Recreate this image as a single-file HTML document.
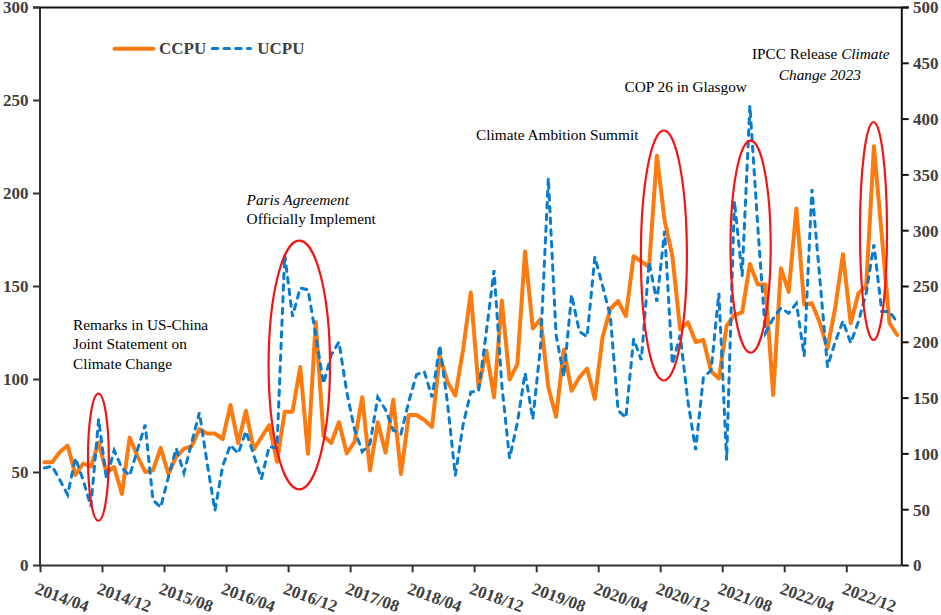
<!DOCTYPE html>
<html><head><meta charset="utf-8"><style>
html,body{margin:0;padding:0;background:#fff;}
body{width:941px;height:615px;overflow:hidden;}
svg{display:block;}
.ax{font-family:"Liberation Serif",serif;font-weight:bold;font-size:17px;fill:#404040;}
.an{font-family:"Liberation Serif",serif;font-size:15.3px;fill:#000;}
</style></head><body>
<svg width="941" height="615" viewBox="0 0 941 615">
<rect width="941" height="615" fill="#fff"/>
<polyline points="44.38,462.2 52.13,462.2 59.89,452.0 67.64,445.5 75.39,475.0 83.15,463.5 90.90,466.5 98.65,442.5 106.40,472.5 114.16,467.0 121.91,494.0 129.66,437.5 137.42,456.0 145.17,472.0 152.92,470.3 160.68,448.0 168.43,473.9 176.18,456.9 183.93,448.8 191.69,446.1 199.44,429.2 207.19,433.6 214.95,433.6 222.70,439.0 230.45,405.0 238.20,443.0 245.96,410.8 253.71,449.3 261.46,437.3 269.22,425.1 276.97,461.7 284.72,411.7 292.48,411.7 300.23,367.0 307.98,453.8 315.74,322.0 323.49,435.8 331.24,443.0 338.99,422.2 346.75,453.5 354.50,441.9 362.25,397.2 370.01,470.5 377.76,422.2 385.51,452.6 393.26,399.8 401.02,474.1 408.77,415.0 416.52,415.0 424.28,420.0 432.03,427.0 439.78,356.0 447.54,382.0 455.29,395.6 463.04,350.0 470.80,292.6 478.55,387.6 486.30,350.7 494.05,397.4 501.81,300.6 509.56,379.5 517.31,364.3 525.07,251.5 532.82,328.5 540.57,319.0 548.33,387.2 556.08,416.8 563.83,349.7 571.58,390.8 579.34,377.4 587.09,368.5 594.84,398.9 602.60,337.0 610.35,309.0 618.10,301.0 625.86,316.2 633.61,256.2 641.36,261.5 649.11,266.8 656.87,155.7 664.62,220.5 672.37,256.1 680.13,329.4 687.88,322.3 695.63,342.0 703.38,340.0 711.14,371.3 718.89,378.5 726.64,325.9 734.40,315.0 742.15,312.4 749.90,263.9 757.66,284.4 765.41,284.4 773.16,395.0 780.91,268.3 788.67,292.0 796.42,208.4 804.17,304.6 811.93,303.3 819.68,322.5 827.43,348.5 835.19,308.0 842.94,254.3 850.69,323.3 858.45,293.3 866.20,286.0 873.95,146.3 881.70,234.5 889.46,323.0 897.21,335.0" fill="none" stroke="#fd7a0e" stroke-width="4" stroke-linejoin="round" stroke-linecap="round"/>
<polyline points="44.38,468.0 52.13,466.3 59.89,480.0 67.64,494.8 75.39,458.0 83.15,480.0 90.90,506.5 98.65,419.2 106.40,478.8 114.16,450.4 121.91,468.0 129.66,475.7 137.42,450.0 145.17,424.7 152.92,499.8 160.68,507.4 168.43,477.0 176.18,448.3 183.93,473.0 191.69,442.6 199.44,412.4 207.19,463.5 214.95,510.5 222.70,465.8 230.45,445.0 238.20,453.5 245.96,431.3 253.71,455.0 261.46,478.7 269.22,446.5 276.97,448.3 284.72,254.8 292.48,316.6 300.23,288.0 307.98,289.7 315.74,335.0 323.49,383.7 331.24,355.0 338.99,342.0 346.75,392.0 354.50,429.4 362.25,451.7 370.01,443.7 377.76,397.2 385.51,409.7 393.26,430.3 401.02,433.8 408.77,401.6 416.52,374.7 424.28,371.5 432.03,397.4 439.78,345.3 447.54,403.5 455.29,475.5 463.04,425.0 470.80,392.0 478.55,391.1 486.30,332.0 494.05,270.2 501.81,385.0 509.56,458.5 517.31,423.0 525.07,373.0 532.82,419.2 540.57,346.0 548.33,178.0 556.08,335.0 563.83,376.5 571.58,294.7 579.34,331.4 587.09,336.8 594.84,257.0 602.60,286.0 610.35,316.2 618.10,410.5 625.86,417.7 633.61,339.0 641.36,360.0 649.11,262.0 656.87,301.7 664.62,231.0 672.37,364.3 680.13,335.0 687.88,401.0 695.63,450.0 703.38,377.6 711.14,370.4 718.89,292.8 726.64,460.5 734.40,201.0 742.15,275.6 749.90,105.7 757.66,225.0 765.41,333.0 773.16,318.6 780.91,307.9 788.67,313.3 796.42,303.4 804.17,356.0 811.93,189.1 819.68,277.0 827.43,366.6 835.19,342.0 842.94,321.0 850.69,343.0 858.45,321.5 866.20,293.0 873.95,244.5 881.70,311.5 889.46,311.5 897.21,322.4" fill="none" stroke="#087dd0" stroke-width="3" stroke-dasharray="5.5 6.2" stroke-linecap="round"/>
<ellipse cx="98.4" cy="457.3" rx="10.4" ry="63.6" fill="none" stroke="#f41414" stroke-width="2.2"/>
<ellipse cx="299.3" cy="365" rx="30.7" ry="124.3" fill="none" stroke="#f41414" stroke-width="2.2"/>
<ellipse cx="663.9" cy="255.5" rx="23" ry="125" fill="none" stroke="#f41414" stroke-width="2.2"/>
<ellipse cx="750.6" cy="246.6" rx="20.1" ry="106" fill="none" stroke="#f41414" stroke-width="2.2"/>
<ellipse cx="873.5" cy="231" rx="13.5" ry="109" fill="none" stroke="#f41414" stroke-width="2.2"/>
<path d="M40 7.5V565.5H901.5" fill="none" stroke="#333" stroke-width="2"/>
<path d="M33 7.5H908.7M901.8 7.5V565.5" fill="none" stroke="#111" stroke-width="2"/>
<path d="M33 7.5H40" stroke="#333" stroke-width="2"/>
<path d="M33 100.5H40" stroke="#333" stroke-width="2"/>
<path d="M33 193.5H40" stroke="#333" stroke-width="2"/>
<path d="M33 286.5H40" stroke="#333" stroke-width="2"/>
<path d="M33 379.5H40" stroke="#333" stroke-width="2"/>
<path d="M33 472.5H40" stroke="#333" stroke-width="2"/>
<path d="M33 565.5H40" stroke="#333" stroke-width="2"/>
<path d="M901.8 7.5H908.7" stroke="#111" stroke-width="2"/>
<path d="M901.8 63.3H908.7" stroke="#111" stroke-width="2"/>
<path d="M901.8 119.1H908.7" stroke="#111" stroke-width="2"/>
<path d="M901.8 174.9H908.7" stroke="#111" stroke-width="2"/>
<path d="M901.8 230.7H908.7" stroke="#111" stroke-width="2"/>
<path d="M901.8 286.5H908.7" stroke="#111" stroke-width="2"/>
<path d="M901.8 342.3H908.7" stroke="#111" stroke-width="2"/>
<path d="M901.8 398.1H908.7" stroke="#111" stroke-width="2"/>
<path d="M901.8 453.9H908.7" stroke="#111" stroke-width="2"/>
<path d="M901.8 509.7H908.7" stroke="#111" stroke-width="2"/>
<path d="M901.8 565.5H908.7" stroke="#111" stroke-width="2"/>
<path d="M40.5 565.5V572.3" stroke="#333" stroke-width="2"/>
<path d="M102.5 565.5V572.3" stroke="#333" stroke-width="2"/>
<path d="M164.5 565.5V572.3" stroke="#333" stroke-width="2"/>
<path d="M226.6 565.5V572.3" stroke="#333" stroke-width="2"/>
<path d="M288.6 565.5V572.3" stroke="#333" stroke-width="2"/>
<path d="M350.6 565.5V572.3" stroke="#333" stroke-width="2"/>
<path d="M412.6 565.5V572.3" stroke="#333" stroke-width="2"/>
<path d="M474.6 565.5V572.3" stroke="#333" stroke-width="2"/>
<path d="M536.7 565.5V572.3" stroke="#333" stroke-width="2"/>
<path d="M598.7 565.5V572.3" stroke="#333" stroke-width="2"/>
<path d="M660.7 565.5V572.3" stroke="#333" stroke-width="2"/>
<path d="M722.7 565.5V572.3" stroke="#333" stroke-width="2"/>
<path d="M784.7 565.5V572.3" stroke="#333" stroke-width="2"/>
<path d="M846.8 565.5V572.3" stroke="#333" stroke-width="2"/>
<text x="28.5" y="12.9" text-anchor="end" class="ax">300</text>
<text x="28.5" y="105.9" text-anchor="end" class="ax">250</text>
<text x="28.5" y="198.9" text-anchor="end" class="ax">200</text>
<text x="28.5" y="291.9" text-anchor="end" class="ax">150</text>
<text x="28.5" y="384.9" text-anchor="end" class="ax">100</text>
<text x="28.5" y="477.9" text-anchor="end" class="ax">50</text>
<text x="28.5" y="570.9" text-anchor="end" class="ax">0</text>
<text x="913" y="13.4" class="ax">500</text>
<text x="913" y="69.2" class="ax">450</text>
<text x="913" y="125.0" class="ax">400</text>
<text x="913" y="180.8" class="ax">350</text>
<text x="913" y="236.6" class="ax">300</text>
<text x="913" y="292.4" class="ax">250</text>
<text x="913" y="348.2" class="ax">200</text>
<text x="913" y="404.0" class="ax">150</text>
<text x="913" y="459.8" class="ax">100</text>
<text x="913" y="515.6" class="ax">50</text>
<text x="913" y="571.4" class="ax">0</text>
<text x="0" y="0" class="ax" transform="translate(33.9,593.3) rotate(20)">2014/04</text>
<text x="0" y="0" class="ax" transform="translate(96.0,593.3) rotate(20)">2014/12</text>
<text x="0" y="0" class="ax" transform="translate(158.1,593.3) rotate(20)">2015/08</text>
<text x="0" y="0" class="ax" transform="translate(220.2,593.3) rotate(20)">2016/04</text>
<text x="0" y="0" class="ax" transform="translate(282.3,593.3) rotate(20)">2016/12</text>
<text x="0" y="0" class="ax" transform="translate(344.4,593.3) rotate(20)">2017/08</text>
<text x="0" y="0" class="ax" transform="translate(406.5,593.3) rotate(20)">2018/04</text>
<text x="0" y="0" class="ax" transform="translate(468.6,593.3) rotate(20)">2018/12</text>
<text x="0" y="0" class="ax" transform="translate(530.7,593.3) rotate(20)">2019/08</text>
<text x="0" y="0" class="ax" transform="translate(592.8,593.3) rotate(20)">2020/04</text>
<text x="0" y="0" class="ax" transform="translate(654.9,593.3) rotate(20)">2020/12</text>
<text x="0" y="0" class="ax" transform="translate(717.0,593.3) rotate(20)">2021/08</text>
<text x="0" y="0" class="ax" transform="translate(779.1,593.3) rotate(20)">2022/04</text>
<text x="0" y="0" class="ax" transform="translate(841.2,593.3) rotate(20)">2022/12</text>
<path d="M114.5 48.8H153.5" stroke="#fd7a0e" stroke-width="4" stroke-linecap="round"/>
<text x="159" y="53.7" class="ax">CCPU</text>
<path d="M212.3 48.6H250.5" stroke="#087dd0" stroke-width="3" stroke-linecap="round" stroke-dasharray="5.5 6.2"/>
<text x="257.3" y="53.7" class="ax">UCPU</text>
<text x="73" y="329.5" class="an">Remarks in US-China</text>
<text x="73" y="348.6" class="an">Joint Statement on</text>
<text x="73" y="368.5" class="an">Climate Change</text>
<text x="246.6" y="205.4" class="an"><tspan font-style="italic">Paris Agreement</tspan></text>
<text x="246.6" y="224.1" class="an">Officially Implement</text>
<text x="476.1" y="139.5" class="an">Climate Ambition Summit</text>
<text x="624.6" y="92.3" class="an">COP 26 in Glasgow</text>
<text x="751.9" y="59" class="an">IPCC Release <tspan font-style="italic">Climate</tspan></text>
<text x="778.8" y="79.5" class="an"><tspan font-style="italic">Change 2023</tspan></text>
</svg>
</body></html>
